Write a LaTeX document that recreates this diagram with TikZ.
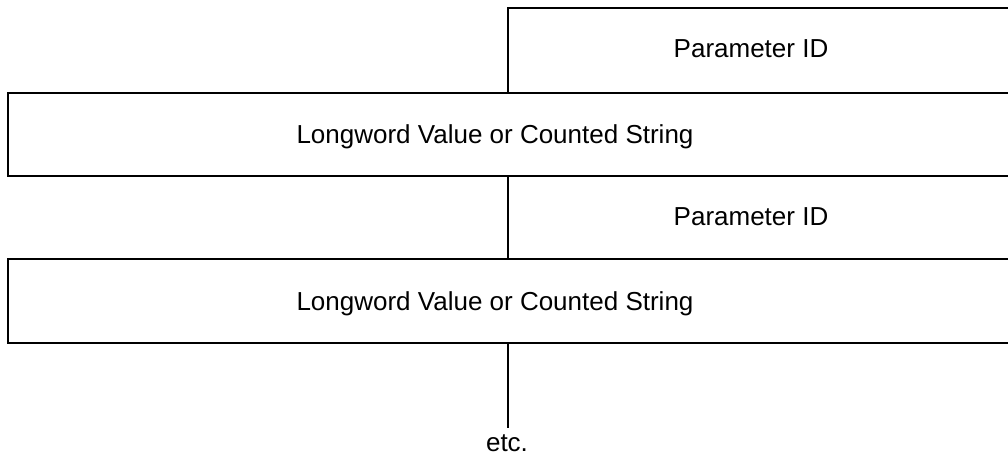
\documentclass[tikz,border=0pt]{standalone}
\usepackage{fontspec}
\setmainfont{Liberation Sans}
\begin{document}
\begin{tikzpicture}[x=1pt,y=-1pt,
  ln/.style={line width=2.2pt, line cap=rect},
  lbl/.style={font=\fontsize{26}{30}\selectfont, inner sep=0pt, anchor=base}]
\useasboundingbox (0,0) rectangle (1008,455);
% coordinates
\coordinate (p1tl) at (508,8);
\coordinate (p1tr) at (1010,8);
\coordinate (p1bl) at (508,93);
\coordinate (b1tl) at (8,93);
\coordinate (b1tr) at (1010,93);
\coordinate (b1bl) at (8,176);
\coordinate (b1br) at (1010,176);
\coordinate (p2tl) at (508,176);
\coordinate (p2bl) at (508,259);
\coordinate (b2tl) at (8,259);
\coordinate (b2tr) at (1010,259);
\coordinate (b2bl) at (8,343);
\coordinate (b2br) at (1010,343);
\coordinate (etctop) at (508,343);
\coordinate (etcend) at (508,427);
% lines
\draw[ln] (p1tr) -- (p1tl) -- (p1bl);
\draw[ln] (b1tr) -- (b1tl) -- (b1bl) -- (b1br);
\draw[ln] (p2tl) -- (p2bl);
\draw[ln] (b2tr) -- (b2tl) -- (b2bl) -- (b2br);
\draw[ln] (etctop) -- (etcend);
% labels
\node[lbl] (pid1) at (751,57) {Parameter ID};
\node[lbl] (lv1) at (495,143) {Longword Value or Counted String};
\node[lbl] (pid2) at (751,225) {Parameter ID};
\node[lbl] (lv2) at (495,310) {Longword Value or Counted String};
\node[lbl] (etc) at (507,451) {etc.};
\end{tikzpicture}
\end{document}
